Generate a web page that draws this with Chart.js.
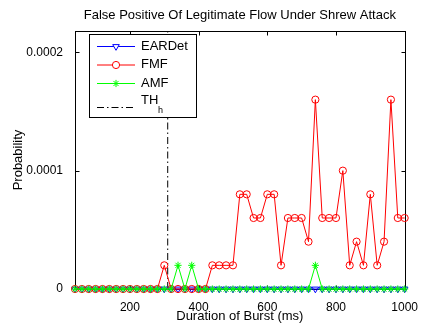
<!DOCTYPE html>
<html>
<head>
<meta charset="utf-8">
<title>False Positive Of Legitimate Flow Under Shrew Attack</title>
<script src="https://cdn.jsdelivr.net/npm/chart.js@4.4.1/dist/chart.umd.min.js"></script>
<style>
  html, body { margin: 0; padding: 0; background: #fff; }
  canvas { display: block; }
</style>
</head>
<body>
<canvas id="fpChart" width="421" height="326"></canvas>
<script>
// burst durations (ms) and false positive probability per detector
const burstMs = [40, 60, 80, 100, 120, 140, 160, 180, 200, 220, 240, 260, 280, 300, 320, 340, 360,
    380, 400, 420, 440, 460, 480, 500, 520, 540, 560, 580, 600, 620, 640, 660, 680, 700, 720, 740,
    760, 780, 800, 820, 840, 860, 880, 900, 920, 940, 960, 980, 1000];

const eardet = [0, 0, 0, 0, 0, 0, 0, 0, 0, 0, 0, 0, 0, 0, 0, 0, 0, 0, 0, 0, 0, 0, 0, 0, 0, 0, 0, 0,
    0, 0, 0, 0, 0, 0, 0, 0, 0, 0, 0, 0, 0, 0, 0, 0, 0, 0, 0, 0, 0];

const fmf = [0, 0, 0, 0, 0, 0, 0, 0, 0, 0, 0, 0, 0, 0.00002, 0, 0, 0, 0, 0, 0,
    0.00002, 0.00002, 0.00002, 0.00002, 0.00008, 0.00008, 0.00006, 0.00006, 0.00008, 0.00008,
    0.00002, 0.00006, 0.00006, 0.00006, 0.00004, 0.00016, 0.00006, 0.00006, 0.00006, 0.0001,
    0.00002, 0.00004, 0.00002, 0.00008, 0.00002, 0.00004, 0.00016, 0.00006, 0.00006];

const amf = [0, 0, 0, 0, 0, 0, 0, 0, 0, 0, 0, 0, 0, 0, 0, 0.00002, 0, 0.00002, 0, 0, 0, 0, 0, 0,
    0, 0, 0, 0, 0, 0, 0, 0, 0, 0, 0, 0.00002, 0, 0, 0, 0, 0, 0, 0, 0, 0, 0, 0, 0, 0];

const thH = 310;              // threshold TH_h on the burst axis
const xRange = [40, 1000];
const yRange = [0, 0.000218];
const xTicks = [200, 400, 600, 800, 1000];
const yTicks = [0, 0.0001, 0.0002];

const FONT = '"Liberation Sans", Arial, Helvetica, sans-serif';

function points(values) {
    return burstMs.map((b, i) => ({ x: b, y: values[i] }));
}

const styles = {
    EARDet: { color: '#0000ff', pointStyle: 'triangle', rotation: 180, radius: 3.8 },
    FMF: { color: '#ff0000', pointStyle: 'circle', rotation: 0, radius: 3.6 },
    AMF: { color: '#00ff00', pointStyle: 'star', rotation: 0, radius: 3.6 }
};

function series(label, values, order) {
    const s = styles[label];
    return {
        label: label,
        data: points(values),
        borderColor: s.color,
        backgroundColor: 'rgba(0,0,0,0)',
        borderWidth: 1,
        pointStyle: s.pointStyle,
        rotation: s.rotation,
        pointRadius: s.radius,
        pointBorderColor: s.color,
        pointBackgroundColor: 'rgba(0,0,0,0)',
        pointBorderWidth: 1,
        tension: 0,
        clip: false,
        order: order
    };
}

// box around the plot with inward tick marks on all four sides
const axesBox = {
    id: 'axesBox',
    beforeDatasetsDraw(chart) {
        const { ctx, chartArea: a, scales: { x, y } } = chart;
        const l = Math.round(a.left) + 0.5, r = Math.round(a.right) + 0.5;
        const t = Math.round(a.top) + 0.5, b = Math.round(a.bottom) + 0.5;
        ctx.save();
        ctx.strokeStyle = '#000';
        ctx.lineWidth = 1;
        ctx.strokeRect(l, t, r - l, b - t);
        ctx.beginPath();
        xTicks.forEach(v => {
            const px = Math.round(x.getPixelForValue(v)) + 0.5;
            ctx.moveTo(px, b); ctx.lineTo(px, b - 4);
            ctx.moveTo(px, t); ctx.lineTo(px, t + 4);
        });
        yTicks.forEach(v => {
            const py = Math.round(y.getPixelForValue(v)) + 0.5;
            ctx.moveTo(l, py); ctx.lineTo(l + 4, py);
            ctx.moveTo(r, py); ctx.lineTo(r - 4, py);
        });
        ctx.stroke();
        ctx.restore();
    }
};

// title and the boxed legend in the upper left
const titleAndLegend = {
    id: 'titleAndLegend',
    afterDraw(chart) {
        const { ctx, chartArea: a } = chart;
        ctx.save();
        ctx.fillStyle = '#000';
        ctx.font = '13px ' + FONT;
        ctx.textAlign = 'center';
        ctx.textBaseline = 'middle';
        ctx.fillText('False Positive Of Legitimate Flow Under Shrew Attack', (a.left + a.right) / 2, 15);

        ctx.fillStyle = '#fff';
        ctx.fillRect(89.5, 34.5, 107, 83);
        ctx.strokeStyle = '#000';
        ctx.lineWidth = 1;
        ctx.strokeRect(89.5, 34.5, 107, 83);

        const rows = [46, 64.5, 83];
        ['EARDet', 'FMF', 'AMF'].forEach((name, i) => {
            const s = styles[name];
            const yy = rows[i] + 0.5;
            ctx.strokeStyle = s.color;
            ctx.beginPath();
            ctx.moveTo(97, yy);
            ctx.lineTo(135, yy);
            ctx.stroke();
            ctx.fillStyle = '#fff';
            Chart.helpers.drawPoint(ctx, {
                pointStyle: s.pointStyle, rotation: s.rotation,
                radius: s.radius, borderWidth: 1
            }, 116, yy);
            ctx.fillStyle = '#000';
            ctx.textAlign = 'left';
            ctx.textBaseline = 'middle';
            ctx.font = '13px ' + FONT;
            ctx.fillText(name, 141, rows[i]);
        });

        ctx.strokeStyle = '#000';
        ctx.setLineDash([7, 3, 1.5, 3]);
        ctx.beginPath();
        ctx.moveTo(97, 107.5);
        ctx.lineTo(135, 107.5);
        ctx.stroke();
        ctx.setLineDash([]);
        ctx.fillStyle = '#000';
        ctx.fillText('TH', 141, 100);
        ctx.font = '9px ' + FONT;
        ctx.textBaseline = 'alphabetic';
        ctx.fillText('h', 158, 112.5);
        ctx.restore();
    }
};

new Chart(document.getElementById('fpChart').getContext('2d'), {
    type: 'line',
    data: {
        datasets: [
            series('EARDet', eardet, 2),
            series('FMF', fmf, 1),
            series('AMF', amf, 0),
            {
                label: 'TH_h',
                data: [{ x: thH, y: yRange[0] }, { x: thH, y: yRange[1] }],
                borderColor: '#000',
                borderWidth: 1,
                borderDash: [7, 3, 1.5, 3],
                pointRadius: 0,
                order: 3
            }
        ]
    },
    options: {
        responsive: false,
        animation: false,
        events: [],
        layout: { padding: { top: 31, right: 16, left: 0, bottom: 0 } },
        plugins: { legend: { display: false }, title: { display: false }, tooltip: { enabled: false } },
        scales: {
            x: {
                type: 'linear',
                min: xRange[0],
                max: xRange[1],
                grid: { display: false },
                border: { display: false },
                afterBuildTicks: scale => { scale.ticks = xTicks.map(v => ({ value: v })); },
                afterFit: scale => { scale.height = 37; },
                ticks: { color: '#000', padding: 3, maxRotation: 0, font: { family: FONT, size: 12 },
                    callback: v => String(v) },
                title: { display: true, text: 'Duration of Burst (ms)', color: '#000',
                    font: { family: FONT, size: 13 }, padding: { top: 0, bottom: 2 } }
            },
            y: {
                type: 'linear',
                min: yRange[0],
                max: yRange[1],
                grid: { display: false },
                border: { display: false },
                afterBuildTicks: scale => { scale.ticks = yTicks.map(v => ({ value: v })); },
                afterFit: scale => { scale.width = 75; },
                ticks: { color: '#000', padding: 4, font: { family: FONT, size: 12 },
                    callback: v => String(v) },
                title: { display: true, text: 'Probability', color: '#000',
                    font: { family: FONT, size: 13 }, padding: { top: 11, bottom: 0 } }
            }
        }
    },
    plugins: [axesBox, titleAndLegend]
});
</script>
</body>
</html>
